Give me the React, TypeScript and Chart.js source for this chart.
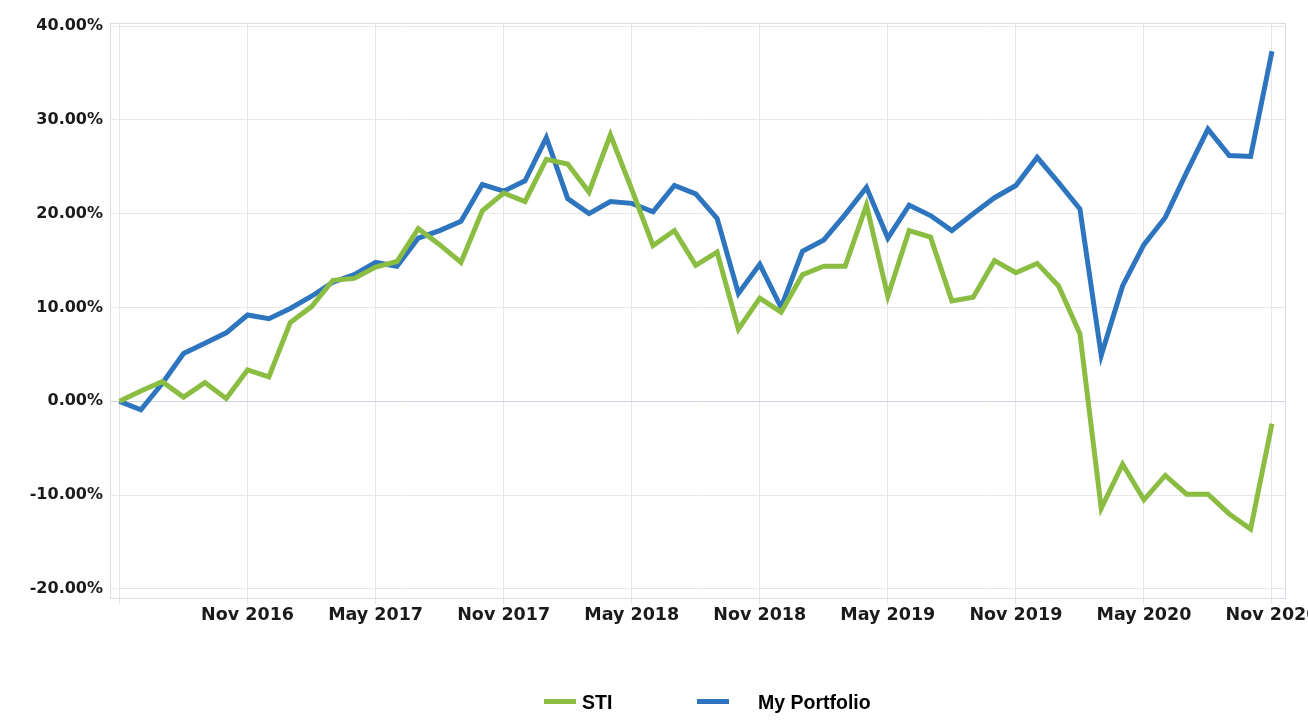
import React, { useEffect, useRef } from 'react';
import { Chart, registerables } from 'chart.js';

Chart.register(...registerables);

const months = [
  'May 2016', 'Jun 2016', 'Jul 2016', 'Aug 2016', 'Sep 2016', 'Oct 2016', 'Nov 2016', 'Dec 2016',
  'Jan 2017', 'Feb 2017', 'Mar 2017', 'Apr 2017', 'May 2017', 'Jun 2017', 'Jul 2017', 'Aug 2017',
  'Sep 2017', 'Oct 2017', 'Nov 2017', 'Dec 2017', 'Jan 2018', 'Feb 2018', 'Mar 2018', 'Apr 2018',
  'May 2018', 'Jun 2018', 'Jul 2018', 'Aug 2018', 'Sep 2018', 'Oct 2018', 'Nov 2018', 'Dec 2018',
  'Jan 2019', 'Feb 2019', 'Mar 2019', 'Apr 2019', 'May 2019', 'Jun 2019', 'Jul 2019', 'Aug 2019',
  'Sep 2019', 'Oct 2019', 'Nov 2019', 'Dec 2019', 'Jan 2020', 'Feb 2020', 'Mar 2020', 'Apr 2020',
  'May 2020', 'Jun 2020', 'Jul 2020', 'Aug 2020', 'Sep 2020', 'Oct 2020', 'Nov 2020',
];

const stiValues = [
  0, 1.1, 2.1, 0.45, 2.0, 0.3, 3.35, 2.6, 8.4, 10.1,
  12.9, 13.1, 14.3, 14.9, 18.4, 16.7, 14.8, 20.3, 22.2, 21.3,
  25.8, 25.3, 22.3, 28.4, 22.6, 16.6, 18.2, 14.5, 15.9, 7.7,
  11.0, 9.5, 13.5, 14.4, 14.4, 20.9, 11.2, 18.2, 17.5, 10.7,
  11.1, 15.0, 13.7, 14.7, 12.3, 7.2, -11.4, -6.7, -10.5, -7.9,
  -9.9, -9.9, -12.0, -13.6, -2.4,
];

const portfolioValues = [
  0, -0.9, 1.9, 5.1, 6.2, 7.3, 9.2, 8.8, 9.9, 11.2,
  12.7, 13.5, 14.8, 14.4, 17.4, 18.2, 19.2, 23.1, 22.4, 23.5,
  28.1, 21.6, 20.0, 21.3, 21.1, 20.2, 23.0, 22.1, 19.5, 11.5,
  14.6, 10.0, 16.0, 17.2, 19.9, 22.8, 17.4, 20.9, 19.8, 18.2,
  20.0, 21.7, 23.0, 26.0, 23.3, 20.5, 4.9, 12.3, 16.7, 19.6,
  24.4, 29.0, 26.2, 26.1, 37.3,
];

const seriesNames = ['STI', 'My Portfolio'];
const seriesColors = ['#8cbd43', '#2e75bf'];
const yTickValues = [-20, -10, 0, 10, 20, 30, 40];
const xTickIndices = [0, 6, 12, 18, 24, 30, 36, 42, 48, 54];

const framePlugin = {
  id: 'frame',
  beforeDatasetsDraw(chart: any) {
    const { ctx, chartArea: a } = chart;
    ctx.save();
    ctx.strokeStyle = '#d9dde6';
    ctx.lineWidth = 1;
    ctx.strokeRect(
      Math.round(a.left) + 0.5,
      Math.round(a.top) + 0.5,
      Math.round(a.right - a.left),
      Math.round(a.bottom - a.top)
    );
    ctx.restore();
  },
};

export default function App() {
  const canvasRef = useRef<HTMLCanvasElement | null>(null);

  useEffect(() => {
    const canvas = canvasRef.current;
    if (!canvas) return;
    const series = [stiValues, portfolioValues];
    const chart = new Chart(canvas, {
      type: 'line',
      data: {
        datasets: series.map((vals, k) => ({
          label: seriesNames[k],
          data: vals.map((v, i) => ({ x: i, y: v })),
          borderColor: seriesColors[k],
          backgroundColor: seriesColors[k],
          borderWidth: 5,
          pointRadius: 0,
          pointHoverRadius: 0,
          tension: 0,
          fill: false,
        })),
      },
      options: {
        responsive: false,
        animation: false,
        devicePixelRatio: 1,
        layout: {
          autoPadding: false,
          padding: { top: 23, right: 23, bottom: 88, left: 0 },
        },
        plugins: {
          legend: { display: false },
          tooltip: { enabled: false },
        },
        scales: {
          x: {
            type: 'linear',
            min: -0.445,
            max: 54.61,
            afterFit: (s: any) => {
              s.height = 40;
              s.paddingLeft = 0;
              s.paddingRight = 0;
            },
            afterBuildTicks: (s: any) => {
              s.ticks = xTickIndices.map((v) => ({ value: v }));
            },
            border: { display: false },
            grid: {
              color: '#e6e6e6',
              lineWidth: 1,
              drawTicks: true,
              tickLength: 6,
            },
            ticks: {
              autoSkip: false,
              maxRotation: 0,
              minRotation: 0,
              padding: 1,
              color: '#1a1a1a',
              font: { family: '"DejaVu Sans", sans-serif', size: 17.5, weight: 'bold' },
              callback: (v: any) => (v === 0 ? '' : months[v]),
            },
          },
          y: {
            type: 'linear',
            min: -20.96,
            max: 40.32,
            afterFit: (s: any) => {
              s.width = 110;
              s.paddingTop = 0;
              s.paddingBottom = 0;
            },
            afterBuildTicks: (s: any) => {
              s.ticks = yTickValues.map((v) => ({ value: v }));
            },
            border: { display: false },
            grid: {
              color: (c: any) => (c.tick && c.tick.value === 0 ? '#ccd3df' : '#e8e8e8'),
              lineWidth: 1,
              drawTicks: false,
            },
            ticks: {
              padding: 7,
              color: '#1a1a1a',
              font: { family: '"DejaVu Sans", sans-serif', size: 16, weight: 'bold' },
              callback: (v: any) => Number(v).toFixed(2) + '%',
            },
          },
        },
      },
      plugins: [framePlugin],
    } as any);
    return () => chart.destroy();
  }, []);

  const legendText: React.CSSProperties = {
    position: 'absolute',
    top: 690,
    fontFamily: '"Liberation Sans", Arial, sans-serif',
    fontWeight: 'bold',
    fontSize: '19.5px',
    lineHeight: '24px',
    color: '#000',
    whiteSpace: 'nowrap',
  };
  const legendBar = (left: number, color: string): React.CSSProperties => ({
    position: 'absolute',
    left,
    top: 699,
    width: 32,
    height: 5,
    background: color,
  });

  return (
    <div
      style={{
        position: 'absolute',
        left: 0,
        top: 0,
        width: 1308,
        height: 726,
        overflow: 'hidden',
        background: '#fff',
      }}
    >
      <canvas ref={canvasRef} width={1308} height={726} style={{ display: 'block', width: 1308, height: 726 }} />
      <div style={legendBar(544, seriesColors[0])} />
      <div style={{ ...legendText, left: 582 }}>{seriesNames[0]}</div>
      <div style={legendBar(697, seriesColors[1])} />
      <div style={{ ...legendText, left: 758 }}>{seriesNames[1]}</div>
    </div>
  );
}
